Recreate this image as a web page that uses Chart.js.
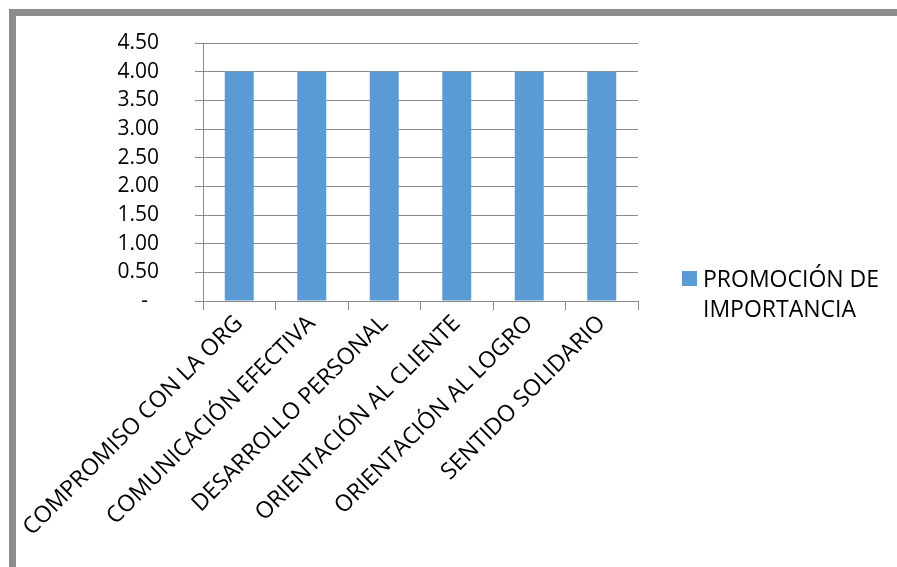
<!DOCTYPE html>
<html lang="es">
<head>
  <meta charset="UTF-8">
  <title>Promoción de importancia</title>
  <script src="https://cdn.jsdelivr.net/npm/chart.js"></script>
  <style>
    body {
      margin: 0;
      background: #fff;
      overflow: hidden;
    }
    #frame {
      position: absolute;
      left: 9px;
      top: 9px;
      width: 1000px;
      height: 700px;
      border-left: 7px solid #8c8c8c;
      border-top: 7px solid #8c8c8c;
    }
    #chart {
      position: absolute;
      left: 0;
      top: 0;
    }
  </style>
</head>
<body>

  <div id="frame"></div>
  <canvas id="chart" width="897" height="567"></canvas>

  <script>
    const categories = [
      'COMPROMISO CON LA ORG',
      'COMUNICACIÓN EFECTIVA',
      'DESARROLLO PERSONAL',
      'ORIENTACIÓN AL CLIENTE',
      'ORIENTACIÓN AL LOGRO',
      'SENTIDO SOLIDARIO'
    ];
    const values = [4, 4, 4, 4, 4, 4];
    const seriesLabel = ['PROMOCIÓN DE', 'IMPORTANCIA'];
    const yTicks = [0, 0.5, 1, 1.5, 2, 2.5, 3, 3.5, 4, 4.5];

    const FONT = "'Open Sans', 'Noto Sans', sans-serif";
    const GRID = '#8a8a8a';

    // legend drawn as a box plus two text lines to the right of the plot
    const sideLegend = {
      id: 'sideLegend',
      afterDraw(chart) {
        const { ctx, chartArea } = chart;
        const ds = chart.data.datasets[0];
        const x = chartArea.right + 44;
        const y = chartArea.bottom - 30;
        ctx.save();
        ctx.fillStyle = ds.backgroundColor;
        ctx.fillRect(x, y, 15, 15);
        ctx.fillStyle = '#000';
        ctx.font = '23px ' + FONT;
        ctx.textBaseline = 'alphabetic';
        ds.label.forEach((line, i) => {
          ctx.fillText(line, x + 21, y + 16 + i * 30);
        });
        ctx.restore();
      }
    };

    new Chart(document.getElementById('chart').getContext('2d'), {
      type: 'bar',
      data: {
        labels: categories,
        datasets: [{
          label: seriesLabel,
          data: values,
          backgroundColor: '#5b9bd5',
          categoryPercentage: 1,
          barPercentage: 0.4
        }]
      },
      options: {
        responsive: false,
        animation: false,
        devicePixelRatio: 1,
        layout: { padding: { left: 0, top: 43, right: 259, bottom: 0 } },
        plugins: {
          legend: { display: false },
          tooltip: { enabled: false }
        },
        scales: {
          x: {
            grid: {
              drawOnChartArea: false,
              tickLength: 9,
              color: GRID
            },
            border: { color: GRID },
            ticks: {
              autoSkip: false,
              minRotation: 45,
              maxRotation: 45,
              padding: 0,
              color: '#000',
              font: { family: FONT, size: 23 }
            },
            afterFit(scale) {
              scale.height = 266;
              scale.paddingLeft = 0;
              scale.paddingRight = 0;
            }
          },
          y: {
            min: 0,
            max: 4.5,
            afterBuildTicks(scale) { scale.ticks = yTicks.map(v => ({ value: v })); },
            grid: { tickLength: 8, color: GRID },
            border: { color: GRID },
            ticks: {
              autoSkip: false,
              padding: 36,
              color: '#000',
              font: { family: FONT, size: 21 },
              callback: v => v === 0 ? '-  ' : v.toFixed(2)
            },
            afterFit(scale) {
              scale.width = 203;
              scale.paddingTop = 0;
              scale.paddingBottom = 0;
            }
          }
        }
      },
      plugins: [sideLegend]
    });
  </script>

</body>
</html>
